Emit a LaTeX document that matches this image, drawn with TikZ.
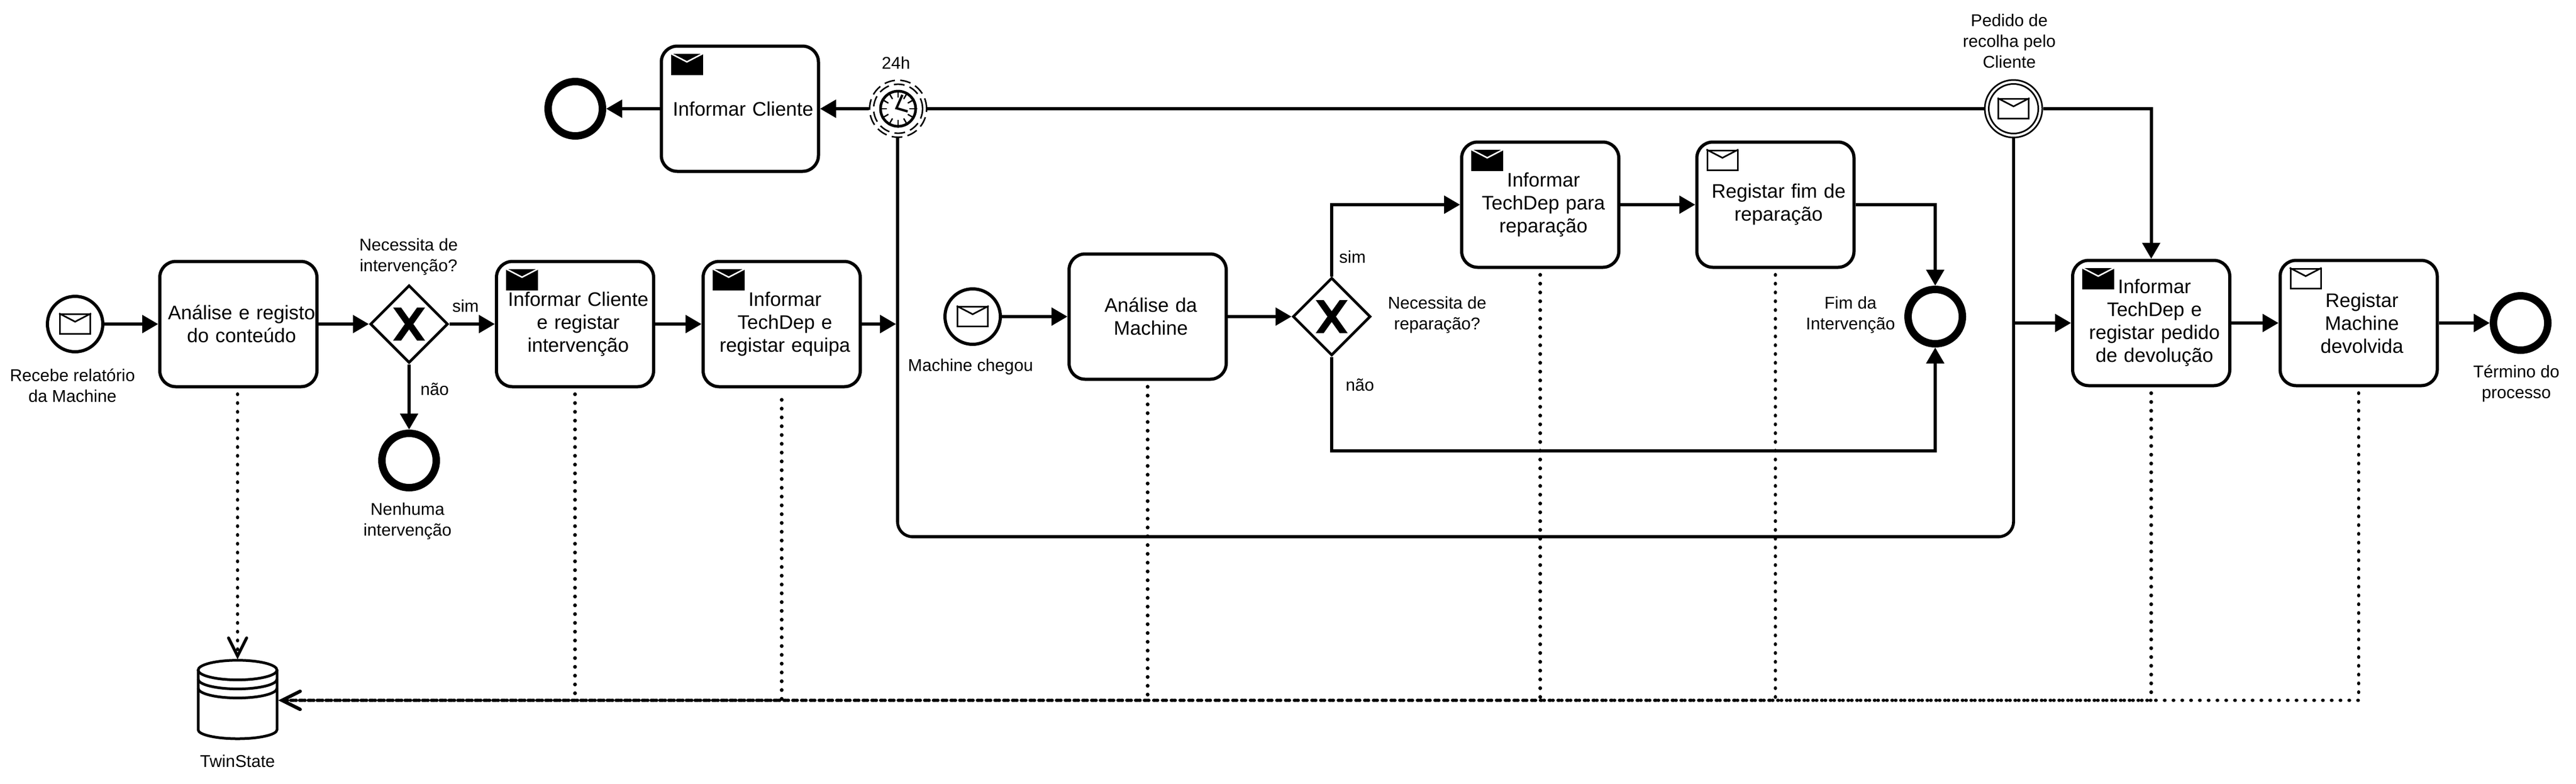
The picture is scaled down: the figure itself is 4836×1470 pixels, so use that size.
\documentclass[tikz,border=0pt]{standalone}
\usepackage{fontspec}
\setmainfont{Liberation Sans}
\usetikzlibrary{shapes.geometric,arrows.meta}

\begin{document}
\begin{tikzpicture}[x=0.25pt,y=-0.25pt]
    \tikzstyle{flow}  = [line width=1.5pt,->,>={Triangle[length=7.5pt,width=8.25pt]},draw=black]
    \tikzstyle{assoc} = [line width=1.7pt,line cap=round,dash pattern=on 0.1pt off 4.025pt,shorten <=2.75pt,
      -{Straight Barb[length=8.5pt,width=8.5pt,line cap=round,line width=1.4pt]},draw=black]
    \tikzstyle{task}=[
      rectangle,
      rounded corners=7.5pt,
      draw=black,
      fill=white,
      line width=1.5pt,
      inner sep=0pt,
      text width=73.75pt,
      align=center,
      execute at begin node={\advance\leftskip by 3pt},
      minimum width=73.75pt,
      minimum height=58.75pt,
      font=\fontsize{9.2}{10.75}\selectfont
    ]
    \tikzstyle{caption}=[
      inner sep=0pt,
      align=center,
      font=\fontsize{8}{9.75}\selectfont
    ]
    \tikzstyle{startev}=[circle,draw=black,fill=white,line width=1.5pt,inner sep=0pt,minimum size=26pt]
    \tikzstyle{endev}=[circle,draw=black,fill=white,line width=3.5pt,inner sep=0pt,minimum size=25.5pt]
    \tikzstyle{gateway}=[diamond,draw=black,fill=white,line width=1.25pt,inner sep=0pt,minimum size=36.5pt]
    \tikzstyle{ring}=[circle,draw=black,fill=white,line width=0.7pt,inner sep=0pt]
    \tikzstyle{timering}=[ring,dash pattern=on 5pt off 2.5pt]
    \tikzstyle{mail}=[rectangle,draw=black,fill=white,line width=0.75pt,inner sep=0pt,minimum width=14.25pt,minimum height=9.25pt]
    \tikzstyle{tick}=[line width=0.65pt,draw=black]
    \tikzstyle{hand}=[line width=1.1pt,draw=black,line join=miter]
    \tikzstyle{storage}=[line width=1.25pt,draw=black]

    \newcommand{\mailfull}[1]{
      \node[mail,fill=black,anchor=north west] (#1 mail) at ([xshift=5.25pt,yshift=-4.25pt]#1.north west) {};
      \draw[white,line width=0.7pt] (#1 mail.north west)--([yshift=-3.9pt]#1 mail.north)--(#1 mail.north east);
    }
    \newcommand{\mailopen}[1]{
      \node[mail,anchor=north west] (#1 mail) at ([xshift=5.25pt,yshift=-4.25pt]#1.north west) {};
      \draw[line width=0.75pt] (#1 mail.north west)--([yshift=-3.9pt]#1 mail.north)--(#1 mail.north east);
    }
    \newcommand{\mailcenter}[1]{
      \node[mail] (#1 mail) at (#1) {};
      \draw[line width=0.75pt] (#1 mail.north west)--([yshift=-3.9pt]#1 mail.north)--(#1 mail.north east);
    }
    \newcommand{\gatewaymark}[1]{
      \fill[black] ([shift={(-30,-31)}]#1.center) -- ++(15,0) -- ++(15,21) -- ++(15,-21) -- ++(15,0) -- ++(-22,31)
        -- ++(22,31) -- ++(-15,0) -- ++(-15,-21) -- ++(-15,21) -- ++(-15,0) -- ++(22,-31) -- cycle;
    }

    \useasboundingbox (0,0) rectangle (4836,1470);

    \node[draw=black,line width=1.4pt,rounded corners=7pt,inner sep=0pt,minimum width=523.75pt,minimum height=200.75pt] (subproc) at (2732.5,605.5) {};

    \node[startev] (start) at (141,608) {};
    \node[task] (analyse) at (447.5,608) {Análise e registo\\do conteúdo};
    \node[gateway] (gw1) at (768,608) {};
    \node[endev] (end none) at (768,864) {};
    \node[task] (intervention) at (1079.5,608) {Informar Cliente\\e registar\\intervenção};
    \node[task] (equip) at (1467.5,608) {Informar\\TechDep e\\registar equipa};

    \node[endev] (end cancel) at (1080,204) {};
    \node[task] (inform client) at (1389,204) {Informar Cliente};
    \node[ring,timering,minimum size=26.75pt] (timer) at (1686,204) {};
    \node[ring,timering,minimum size=23pt] (timer inner) at (timer) {};
    \node[circle,draw=black,line width=1.25pt,fill=white,inner sep=0pt,minimum size=16.5pt] (timer clock) at (timer) {};
    \coordinate (timer pivot) at (1683,203);

    \node[ring,line width=0.75pt,minimum size=27pt] (pickup) at (3780,204) {};
    \node[ring,line width=0.75pt,minimum size=23.25pt] (pickup inner) at (pickup) {};

    \node[startev] (start machine) at (1826,594) {};
    \node[task] (machine analyse) at (2154.5,594) {Análise da\\Machine};
    \node[gateway] (gw2) at (2500,594) {};
    \node[task] (repair) at (2891.5,384) {Informar\\TechDep para\\reparação};
    \node[task] (repair done) at (3333,384) {Registar fim de\\reparação};
    \node[endev] (end repair) at (3633,594) {};
    \coordinate (repair skip) at (3633,846);

    \node[task] (return task) at (4038.5,606) {Informar\\TechDep e\\registar pedido\\de devolução};
    \node[task] (returned) at (4428,606) {Registar\\Machine\\devolvida};
    \node[endev] (end process) at (4732,606) {};

    \node[rectangle,inner sep=0pt,minimum width=38.25pt,minimum height=38pt] (store) at (446,1314) {};
    \coordinate (store top) at ([yshift=-5pt]store.north);

    \mailcenter{start}
    \mailcenter{start machine}
    \mailcenter{pickup}
    \mailfull{inform client}
    \mailfull{intervention}
    \mailfull{equip}
    \mailfull{repair}
    \mailopen{repair done}
    \mailfull{return task}
    \mailopen{returned}
    \gatewaymark{gw1}
    \gatewaymark{gw2}

    \draw[tick] (timer clock.0)--(timer clock.180);
    \draw[tick] (timer clock.30)--(timer clock.210);
    \draw[tick] (timer clock.60)--(timer clock.240);
    \draw[tick] (timer clock.90)--(timer clock.270);
    \draw[tick] (timer clock.120)--(timer clock.300);
    \draw[tick] (timer clock.150)--(timer clock.330);
    \node[circle,fill=white,inner sep=0pt,minimum size=10.5pt] (timer face) at (timer) {};
    \draw[hand] ([xshift=2.75pt,yshift=6.25pt]timer pivot)--(timer pivot)--([xshift=5.25pt,yshift=-1.5pt]timer pivot);

    \draw[storage] (store top) ellipse (18.5pt and 4.6pt);
    \draw[storage] ([xshift=-18.5pt]store top)--++(0,112) arc (180:360:18.5pt and 4.2pt)--++(0,-112);
    \draw[storage] ([xshift=-18.5pt,yshift=-4.25pt]store top) arc (180:360:18.5pt and 4.6pt);
    \draw[storage] ([xshift=-18.5pt,yshift=-8.5pt]store top) arc (180:360:18.5pt and 4.6pt);

    \node[caption] (start text) at (136,723) {Recebe relatório\\da Machine};
    \node[caption] (gw1 text) at (767,482) {Necessita de\\intervenção?};
    \node[caption] (gw1 yes) at (874,574) {sim};
    \node[caption] (gw1 no) at (816,730) {não};
    \node[caption] (end none text) at (765,978) {Nenhuma\\intervenção};
    \node[caption] (store text) at (446,1428) {TwinState};
    \node[caption] (timer text) at (1682,118) {24h};
    \node[caption] (start machine text) at (1822,688) {Machine chegou};
    \node[caption] (pickup text) at (3772,77) {Pedido de\\recolha pelo\\Cliente};
    \node[caption] (gw2 yes) at (2539,482) {sim};
    \node[caption] (gw2 no) at (2553,722) {não};
    \node[caption] (gw2 text) at (2698,591) {Necessita de\\reparação?};
    \node[caption] (end repair text) at (3474,591) {Fim da\\Intervenção};
    \node[caption] (end process text) at (4724,720) {Término do\\processo};

    \draw[flow] (start)--(analyse);
    \draw[flow] (analyse)--(gw1);
    \draw[flow] (gw1)--(intervention);
    \draw[flow] (gw1)--(end none);
    \draw[flow] (intervention)--(equip);
    \draw[flow] (equip.east)--(equip.east -| subproc.west);
    \draw[flow] (timer)--(inform client);
    \draw[flow] (inform client)--(end cancel);
    \draw[flow] (start machine)--(machine analyse);
    \draw[flow] (machine analyse)--(gw2);
    \draw[flow] (gw2.north) |- (repair.west);
    \draw[flow] (repair)--(repair done);
    \draw[flow] (repair done.east) -| (end repair.north);
    \draw[flow] (gw2.south) |- (repair skip)--(end repair.south);
    \draw[flow] (subproc.east |- return task.west)--(return task.west);
    \draw[flow] (pickup.east) -| (return task.north);
    \draw[flow] (return task)--(returned);
    \draw[flow] (returned)--(end process);

    \draw[assoc] (analyse.south -| store.north)--(store.north);
    \draw[assoc] (intervention.south) |- (store.east);
    \draw[assoc,dash phase=1.5pt] (equip.south) |- (store.east);
    \draw[assoc] (machine analyse.south) |- (store.east);
    \draw[assoc] (repair.south) |- (store.east);
    \draw[assoc] (repair done.south) |- (store.east);
    \draw[assoc] (return task.south) |- (store.east);
    \draw[assoc] (returned.south) |- (store.east);
\end{tikzpicture}
\end{document}
